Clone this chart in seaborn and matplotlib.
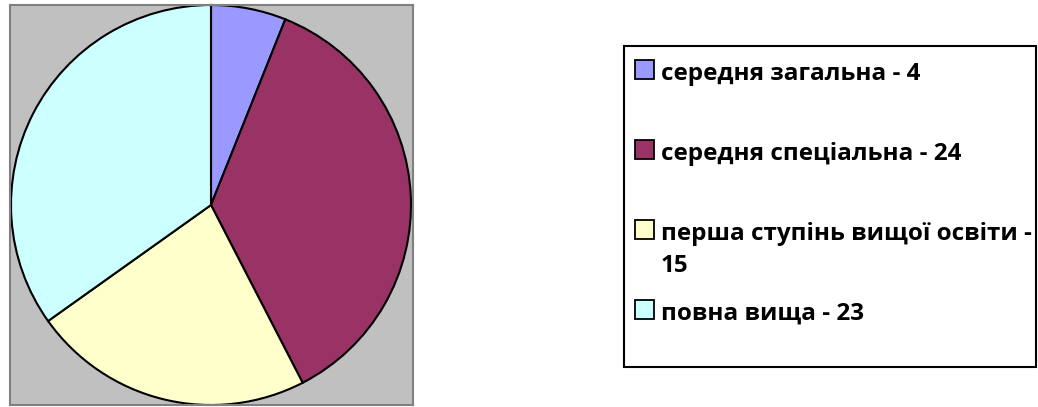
import matplotlib
matplotlib.use('Agg')
import matplotlib.pyplot as plt
from matplotlib.patches import Rectangle
import seaborn as sns

# Education level counts
categories = ['середня загальна', 'середня спеціальна', 'перша ступінь вищої освіти', 'повна вища']
counts = [4, 24, 15, 23]
legend_labels = ['середня загальна - 4', 'середня спеціальна - 24',
                 'перша ступінь вищої освіти -\n15', 'повна вища - 23']
colors = ['#9999FF', '#993366', '#FFFFCC', '#CCFFFF']

sns.set_style('white')
plt.rcParams['font.family'] = ['Open Sans', 'DejaVu Sans']
palette = sns.color_palette(colors)

W, H = 1038, 407
fig = plt.figure(figsize=(W / 100, H / 100), dpi=100)


def fy(y):
    # pixel row from top -> figure fraction
    return (H - y) / H


# pie area with grey background, placed in pixels
ax = fig.add_axes([10 / W, fy(405), 403 / W, 400 / H])
ax.pie(counts, colors=palette, startangle=90, counterclock=False,
       wedgeprops={'edgecolor': 'black', 'linewidth': 1.5})
ax.set_aspect('auto')
ax.set_xlim(-201 / 200, 202 / 200)
ax.set_ylim(-1.0, 1.0)
ax.set_frame_on(True)
ax.set_facecolor('#C0C0C0')
for sp in ax.spines.values():
    sp.set_visible(True)
    sp.set_color('#808080')
    sp.set_linewidth(1.5)
ax.set_xticks([])
ax.set_yticks([])

# legend box, drawn by hand to follow the original spacing
fig.patches.append(Rectangle((624 / W, fy(367)), 412 / W, 321 / H,
                             transform=fig.transFigure, facecolor='white',
                             edgecolor='black', linewidth=1.5, zorder=0))

row_y = 69.5      # centre of first key square
row_step = 80
sq = 19
for i, (lab, c) in enumerate(zip(legend_labels, palette)):
    cy = row_y + i * row_step
    fig.patches.append(Rectangle((635 / W, fy(cy + sq / 2)), sq / W, sq / H,
                                 transform=fig.transFigure, facecolor=c,
                                 edgecolor='black', linewidth=1.3))
    for j, line in enumerate(lab.split('\n')):
        fig.text(661 / W, fy(cy + 10.5 + j * 32), line, ha='left', va='baseline',
                 fontsize=17.5, fontweight='bold', color='black')

fig.savefig('out.png', dpi=100)
